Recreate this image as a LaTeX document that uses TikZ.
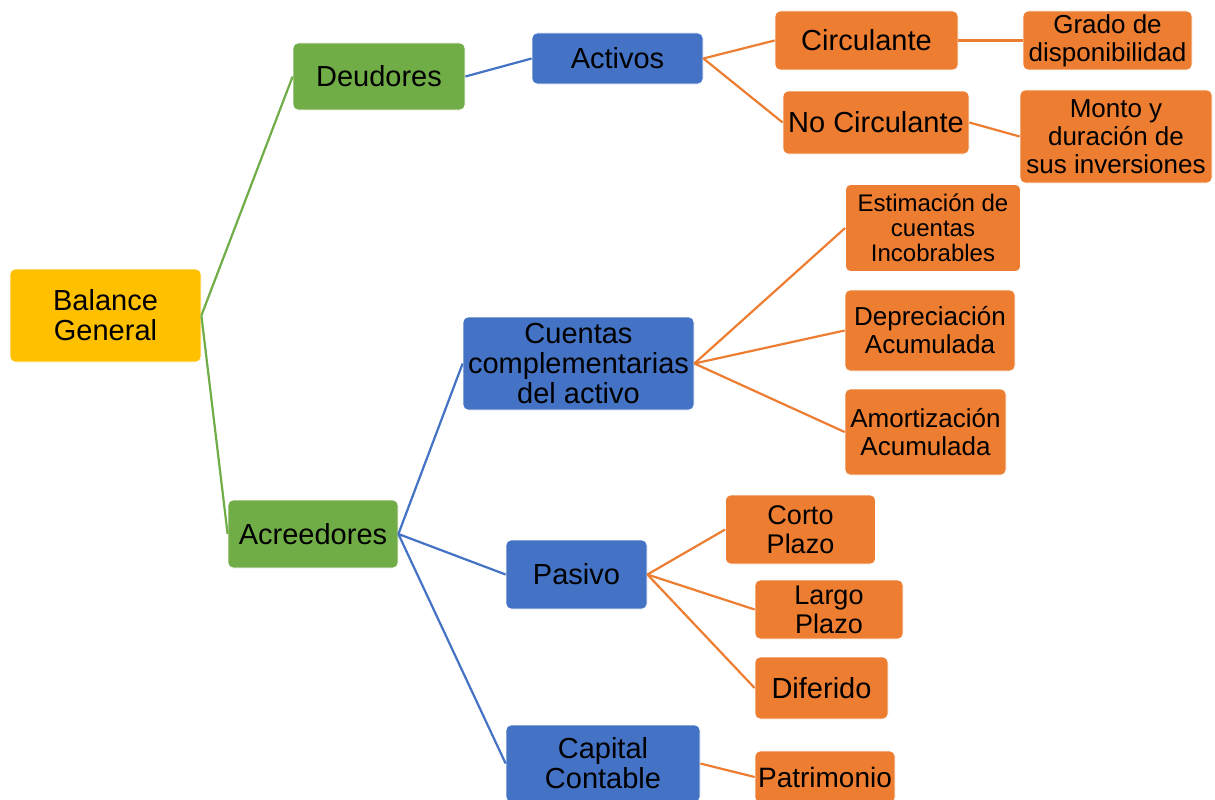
\documentclass[tikz,border=0pt]{standalone}
\usepackage{fontspec}
\setmainfont{Liberation Sans}
\definecolor{cyellow}{HTML}{FFC000}
\definecolor{cgreen}{HTML}{70AD47}
\definecolor{cblue}{HTML}{4472C4}
\definecolor{corange}{HTML}{ED7D31}
\newcommand{\fsz}[2]{\fontsize{#1}{#2}\selectfont}
\begin{document}
\begin{tikzpicture}[x=1pt,y=-1pt,
  box/.style={rectangle, rounded corners=5pt, inner sep=0pt, align=center,
    text=black, draw=white, line width=0.75pt},
  yellowbox/.style={box, fill=cyellow},
  greenbox/.style={box, fill=cgreen},
  bluebox/.style={box, fill=cblue},
  orangebox/.style={box, fill=corange},
  sz/.style 2 args={minimum width=#1pt, minimum height=#2pt},
  big/.style={font=\fsz{29}{30}},
  mid/.style={font=\fsz{26}{28}},
  small/.style={font=\fsz{24}{25}},
  link/.style={line width=2.2pt},
  greenlink/.style={link, draw=cgreen},
  bluelink/.style={link, draw=cblue},
  orangelink/.style={link, draw=corange}]
\useasboundingbox (0,0) rectangle (1215,800);
\clip (0,0) rectangle (1215,800);
\fill[white] (0,0) rectangle (1215,800);

% level 0 and 1
\node[yellowbox, big, sz={191}{93}] (bal) at (105.5,315.5) {Balance\\General};
\node[greenbox, big, sz={172}{67}] (deu) at (379,76.5) {Deudores};
\node[greenbox, big, sz={170}{68}] (acr) at (313,534) {Acreedores};

% level 2
\node[bluebox, big, sz={171}{51}] (act) at (617.5,58.5) {Activos};
\node[bluebox, big, sz={231}{93}] (cue) at (578.5,363.5) {Cuentas\\complementarias\\del activo};
\node[bluebox, big, sz={141}{69}] (pas) at (576.5,574.5) {Pasivo};
\node[bluebox, big, sz={194}{77}] (cap) at (603,763.5) {Capital\\Contable};

% level 3
\node[orangebox, big, sz={183}{59}] (cir) at (866.5,40.5) {Circulante};
\node[orangebox, big, sz={186}{63}] (noc) at (876,122.5) {No Circulante};
\node[orangebox, small, sz={175}{87}] (est) at (933,228) {Estimación de\\cuentas\\Incobrables};
\node[orangebox, mid, sz={170}{81}] (dep) at (930,330.5) {Depreciación\\Acumulada};
\node[orangebox, mid, sz={161}{86}] (amo) at (925.5,432) {Amortización\\Acumulada};
\node[orangebox, font=\fsz{27}{29}, sz={150}{69}] (cor) at (800.5,529.5) {Corto\\Plazo};
\node[orangebox, font=\fsz{27}{29}, sz={148}{59}] (lar) at (829,609.5) {Largo\\Plazo};
\node[orangebox, big, sz={133}{62}] (dif) at (821.5,688) {Diferido};
\node[orangebox, font=\fsz{28}{30}, sz={140}{52}] (pat) at (825,777) {Patrimonio};

% level 4
\node[orangebox, mid, sz={169}{59}] (gra) at (1107.5,40.5) {Grado de\\disponibilidad};
\node[orangebox, mid, sz={192}{93}] (mon) at (1116,136.5) {Monto y\\duración de\\sus inversiones};

% connectors
\draw[greenlink] (bal.east) -- (deu.west);
\draw[greenlink] (bal.east) -- (acr.west);
\draw[bluelink] (deu.east) -- (act.west);
\draw[bluelink] (acr.east) -- (cue.west);
\draw[bluelink] (acr.east) -- (pas.west);
\draw[bluelink] (acr.east) -- (cap.west);
\draw[orangelink] (act.east) -- (cir.west);
\draw[orangelink] (act.east) -- (noc.west);
\draw[orangelink] (cir.east) -- (gra.west);
\draw[orangelink] (noc.east) -- (mon.west);
\draw[orangelink] (cue.east) -- (est.west);
\draw[orangelink] (cue.east) -- (dep.west);
\draw[orangelink] (cue.east) -- (amo.west);
\draw[orangelink] (pas.east) -- (cor.west);
\draw[orangelink] (pas.east) -- (lar.west);
\draw[orangelink] (pas.east) -- (dif.west);
\draw[orangelink] (cap.east) -- (pat.west);
\end{tikzpicture}
\end{document}
